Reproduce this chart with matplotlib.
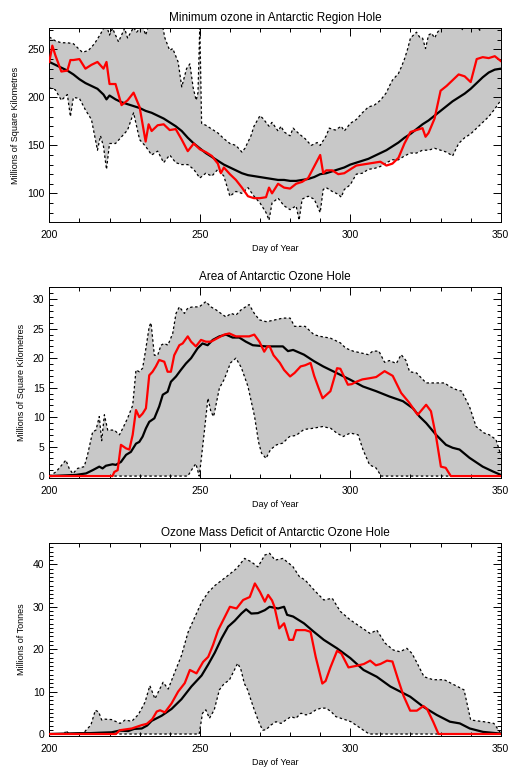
import numpy as np
import matplotlib
matplotlib.use("Agg")
import matplotlib.pyplot as plt
from matplotlib.ticker import MultipleLocator

plt.rcParams['font.family'] = ['Liberation Sans', 'DejaVu Sans']

# ---------------- Panel 1: minimum ozone ----------------
min_oz_max_day = [200, 202, 204, 206, 208, 210, 211, 213, 215, 217, 218, 219, 220, 221, 223, 225, 226, 228,
                  229, 231, 232, 234, 237, 238.4, 240, 241, 242.8, 244, 245.6, 246.7, 247.8, 248.8, 249.4,
                  250, 250.6, 252, 254, 256, 258, 260, 262, 264, 265, 267, 268, 270, 271, 273, 274, 276, 277,
                  278, 280, 281, 283, 285, 287, 289, 290, 292, 293, 295, 297, 298, 300, 302, 304, 306, 308,
                  310, 312, 313, 314, 316, 317, 318, 319, 320, 321, 322, 323, 324, 325, 326, 327, 328, 329,
                  330, 332, 334, 336, 337, 338, 340, 342, 343, 344, 346, 350]
min_oz_max = [263, 259, 257, 257, 256, 250, 247, 249, 256, 266, 272, 275, 265, 272, 258, 272, 262, 273,
              268, 275, 265, 285, 285, 262, 249, 251, 237, 211, 230, 235, 210, 197, 205,
              275, 173, 171, 167, 163, 157, 152, 150, 143, 147, 160, 170, 181, 178, 170, 174, 165, 170,
              164, 160, 168, 162, 157, 150, 153, 150, 160, 168, 166, 170, 165, 173, 177, 184, 190, 192,
              197, 205, 212, 218, 225, 232, 240, 250, 262, 265, 268, 263, 262, 251, 265, 267, 262, 268,
              272, 280, 280, 275, 270, 275, 280, 276, 270, 277, 280, 280]

min_oz_min_day = [200, 202, 204, 206, 207, 208, 210, 212, 214, 216, 217, 218, 219, 220, 222, 224, 226, 228,
                  230, 232, 234, 236, 238, 240, 242, 244, 246, 248, 250, 252, 254, 256, 258, 260, 262, 264,
                  266, 268, 270, 272, 273, 274, 276, 278, 280, 282, 283, 284, 286, 288, 290, 291, 292, 294,
                  296, 297, 298, 300, 302, 304, 306, 308, 310, 312, 314, 316, 318, 320, 322, 324, 326, 328,
                  330, 332, 334, 336, 338, 340, 342, 344, 346, 348, 350]
min_oz_min = [210, 208, 197, 203, 180, 200, 199, 187, 177, 145, 160, 149, 125, 152, 152, 159, 166, 184,
              156, 149, 140, 144, 132, 140, 132, 130, 130, 125, 116, 121, 118, 125, 118, 97, 102, 100,
              106, 97, 90, 80, 72, 90, 95, 87, 83, 87, 72, 94, 97, 94, 80, 104, 106, 102,
              99, 96, 104, 109, 120, 121, 125, 126, 128, 132, 135, 135, 139, 142, 142, 145, 145, 147,
              145, 143, 139, 152, 158, 162, 168, 174, 180, 188, 197]

min_oz_mean_day = [200, 202, 204, 206, 208, 210, 212, 214, 216, 218, 219, 220, 222, 224, 226, 228, 230, 232,
                   234, 236, 238, 240, 242, 244, 246, 248, 250, 252, 254, 256, 258, 260, 262, 264, 266, 268,
                   270, 272, 274, 276, 278, 280, 282, 284, 286, 288, 290, 292, 294, 296, 298, 300, 302, 304,
                   306, 308, 310, 312, 314, 316, 318, 320, 322, 324, 326, 328, 330, 332, 334, 336, 338, 340,
                   342, 344, 346, 348, 350]
min_oz_mean = [237, 234, 231, 228, 224, 219, 215, 212, 209, 203, 198, 202, 198, 195, 193, 191, 189, 186,
               184, 181, 178, 174, 170, 165, 158, 152, 147, 142, 138, 134, 130, 127, 124, 121, 119, 118,
               117, 116, 115, 114, 114, 113, 113, 114, 115, 117, 120, 121, 123, 125, 127, 130, 132, 134,
               136, 139, 142, 145, 149, 153, 158, 162, 167, 172, 176, 181, 186, 191, 196, 200, 204, 209,
               215, 221, 226, 229, 230]

min_oz_now_day = [200, 201, 202, 204, 206, 207, 208, 210, 212, 214, 216, 218, 219, 220, 222, 224, 226, 228,
                  230, 232, 233, 234, 236, 238, 240, 242, 244, 246, 248, 250, 252, 254, 256, 257, 258, 260,
                  262, 264, 266, 268, 270, 272, 273, 274, 276, 278, 280, 282, 284, 286, 288, 290, 291, 292,
                  294, 296, 298, 300, 302, 304, 306, 308, 310, 312, 314, 316, 318, 320, 322, 324, 325, 326,
                  328, 330, 332, 334, 336, 338, 340, 342, 344, 346, 348, 350]
min_oz_now = [237, 254, 244, 227, 228, 239, 239, 240, 230, 234, 237, 230, 237, 214, 214, 192, 197, 205,
              190, 154, 172, 165, 171, 172, 166, 167, 156, 144, 152, 146, 143, 139, 131, 121, 127, 120,
              114, 106, 97, 95, 95, 96, 106, 100, 110, 106, 105, 110, 112, 116, 128, 140, 121, 124,
              124, 120, 121, 125, 129, 130, 131, 132, 133, 129, 131, 137, 152, 164, 166, 168, 159, 163,
              178, 207, 212, 218, 224, 222, 216, 240, 242, 241, 243, 238]

# ---------------- Panel 2: ozone hole area ----------------
area_max_day = [200, 202.2, 205.5, 206.6, 207.8, 209.4, 211.6, 212.7, 214.4, 215.5, 216.6, 217.4, 218.3,
                219.4, 221.6, 223.3, 224.4, 226, 227.7, 228.8, 229.9, 231, 232.1, 233.2, 233.8, 234.9,
                236, 237.1, 238.2, 239.4, 241, 242.1, 243.2, 244.9, 246, 247.6, 249.8, 252, 253.7, 255.4,
                257, 258.7, 260.4, 262, 263.7, 266.4, 268.1, 269.8, 272, 273.2, 275, 277.6, 280, 281.5,
                285, 287.9, 290, 293.4, 296.7, 298.5, 300.9, 303.5, 306, 307.5, 309.5, 311.4, 313, 315.3,
                316.9, 318.5, 319.7, 322, 325.2, 328, 331.3, 333, 335, 337, 339.6, 341.8, 344.5, 346.2,
                348.4, 350]
area_max = [0, 0.7, 2.7, 1.3, 0.4, 1.3, 1.6, 3.6, 7.5, 7.8, 10.1, 6, 10.4,
            7.8, 7.8, 7, 8.1, 9.8, 12, 18, 17.7, 18.3, 21.7, 25.4, 26, 20.5,
            20.5, 22.2, 22.5, 22.2, 24.2, 27.6, 28.7, 27.6, 28.5, 28.7, 28.7, 29.6, 28.7, 28.2,
            27.6, 27, 27.6, 27.3, 28.2, 29.1, 27.6, 26.5, 26.2, 26.3, 26.5, 26.8, 26.8, 25.4,
            25.4, 24.0, 23.7, 23.4, 22.6, 21.7, 21.2, 20.9, 20.6, 21.2, 21.2, 19.3, 19.6, 19.1,
            20.6, 19.6, 17.7, 17.5, 15.8, 15.8, 15.8, 15.2, 14.7, 14.4, 11.8, 8.4, 7.3, 7.0,
            6.2, 3.6]

area_min_day = [200, 246, 247.6, 248.7, 249.8, 250.4, 251.5, 252.7, 253.7, 254.6, 256.5, 258.2, 260.2,
                262, 263.8, 266, 268.2, 269.5, 270.5, 272, 273.5, 275.5, 277.6, 279.8, 282, 284.6,
                287.5, 290.8, 293.5, 295.5, 297.6, 300, 302.6, 304.2, 306.4, 308.5, 310.3, 350]
area_min = [0, 0, 1.3, 2.1, 0, 2.5, 7.5, 13.2, 10.9, 10.1, 14.9, 16.5, 19.2,
            20, 18.4, 15.2, 10.1, 5.8, 3.9, 3.0, 4.5, 5.3, 5.6, 6.7, 6.9, 7.9,
            8.1, 8.4, 8.1, 7.3, 6.7, 7.3, 7.0, 4.5, 1.9, 1.4, 0, 0]

area_mean_day = [200, 208.9, 212.2, 214.4, 216.6, 217.7, 218.8, 221, 222.1, 223.8, 225.5, 227.1, 228.8,
                 229.9, 231, 232.1, 233.2, 234.9, 236.5, 237.7, 239.3, 240.4, 242.1, 243.7, 245.4, 247.1,
                 249.3, 250.9, 252.6, 254.3, 256.5, 258.7, 260.9, 263.1, 265.3, 267.6, 269.8, 272, 273.2,
                 277.6, 279.3, 281, 284.6, 287.9, 291, 295.4, 299.8, 304.2, 308.6, 313, 317.5, 320.8,
                 323, 325.2, 328.5, 331.8, 334, 336.3, 339.6, 344, 347.3, 350]
area_mean = [0, 0.2, 0.45, 1, 1.6, 1.3, 1.75, 2, 1.9, 2.4, 3.6, 4.1, 5.5,
             5.8, 6.7, 8.1, 9.2, 9.8, 11.8, 13.8, 14.3, 16, 16.9, 18, 19.1, 20,
             21.7, 22.5, 22.2, 23.1, 23.7, 24, 23.5, 23.5, 22.8, 22.2, 22.1, 22, 22,
             22, 21.2, 21.4, 20.6, 19.5, 18.6, 17.5, 16.4, 15.2, 14.4, 13.5, 12.7, 11.5,
             10.1, 9.0, 7.0, 5.3, 4.8, 4.5, 3.1, 1.6, 0.8, 0.2]

area_now_day = [200, 221, 221.6, 222.7, 223.8, 225.5, 226.6, 227.7, 228.8, 229.9, 231, 232.1, 233.2,
                234.3, 235.4, 236.5, 238.2, 239.3, 240.4, 241.5, 243.2, 244.3, 246, 247.1, 248.7, 250.4,
                252, 253.7, 255.9, 258.1, 259.8, 262, 264.3, 266.4, 268.1, 269.8, 271.4, 272.5, 273.2,
                274.5, 276.6, 278, 280, 281.5, 283.5, 285, 286.8, 288, 289.5, 290.8, 293.4, 295.6, 296.7,
                299.2, 300.5, 302, 304, 306.4, 308.6, 311.4, 314.1, 316.9, 319.5, 322.4, 325.2, 326.8,
                328.5, 330.1, 331.7, 333.4, 350]
area_now = [0, 0, 0.7, 1, 5.3, 4.7, 4.5, 7, 11.2, 10, 10.6, 11.5, 17.1,
            17.7, 18.6, 19.7, 19.4, 17.7, 17.7, 20.5, 22.2, 22.5, 23.7, 22.8, 22, 23.1,
            22.8, 22.8, 23.4, 24, 24.2, 23.7, 23.7, 23.7, 24, 22.8, 21.1, 22, 22,
            20.5, 19.2, 18, 16.9, 17.5, 18.6, 18.8, 19.2, 17, 14.9, 13.2, 14.4, 18.3, 18.2,
            15.5, 15.6, 16, 16.4, 16.6, 16.8, 17.8, 17.0, 14.1, 12.5, 10.4, 12.1, 11,
            6.7, 1.6, 1.4, 0, 0]

# ---------------- Panel 3: ozone mass deficit ----------------
omd_max_day = [200, 205, 205.5, 206.6, 211.1, 212.2, 213.8, 215.3, 216.4, 217.4, 218.5, 220.7, 223.5,
               225.2, 227.4, 229.6, 231.8, 233.4, 235.1, 237.8, 239.5, 241.7, 243.9, 246.1, 248.3,
               250.6, 252.8, 255, 257.2, 259.4, 262.2, 264.9, 267.1, 269.3, 271.6, 273.2, 275, 277.6,
               280.9, 283.1, 285, 287.9, 291.2, 294, 296.7, 300, 303.3, 306.6, 308.8, 311.6, 314.3,
               316.5, 318.8, 320.5, 322, 324.5, 327.5, 331.2, 335.6, 337.8, 340, 344.4, 347.7, 350]
omd_max = [0, 0, 0.8, 0, 0, 0.9, 2.1, 5.6, 5.2, 3.3, 3.5, 3.4, 2.5,
           3.3, 3.0, 4.6, 7.5, 11.4, 8.3, 12.2, 10.6, 14.6, 18.5, 24.0, 27.5,
           31.1, 33.4, 35.0, 36.2, 37.4, 39.0, 41.4, 40.6, 39.4, 42.2, 42.6, 41.0, 41.4,
           39.5, 37.1, 36.3, 34.0, 31.6, 32.0, 28.9, 26.9, 25.3, 23.7, 24.5, 21.4, 19.8,
           19.4, 20.2, 19.0, 17.0, 13.5, 12.8, 12.8, 11.2, 10.4, 3.3, 2.9, 2.5, 0.2]

omd_min_day = [200, 249.8, 250.9, 252, 253.2, 254.8, 256.5, 258.1, 259.8, 261.5, 262.6, 263.7, 264.8,
               265.9, 267, 268.1, 269.8, 270.9, 272, 273.6, 275.3, 277, 278.6, 280.3, 281.9, 283.6,
               285.3, 286.9, 288.6, 290.3, 291.9, 293.6, 295.2, 296.9, 298.6, 300.2, 301.9, 303.5,
               305.2, 306.3, 350]
omd_min = [0, 0, 4.9, 5.7, 3.7, 5.7, 10.4, 11.9, 12.7, 15.1, 16.7, 15.1, 11.9,
           10.4, 8, 5.7, 2.5, 0.9, 1.0, 2.1, 2.9, 2.5, 3.3, 4.1, 3.7, 4.9,
           4.5, 4.9, 5.7, 6.1, 6.1, 5.3, 4.1, 3.7, 3.3, 2.9, 2.1, 1.3,
           0.5, 0, 0]

omd_mean_day = [200, 209.6, 213.3, 216.6, 220.7, 223.3, 226.2, 228.2, 230.7, 232.5, 234, 237.3, 240.6,
                243.9, 247.2, 250.6, 252.8, 255, 257.2, 259.4, 261.6, 263.8, 265.4, 267.1, 269.3, 271.6,
                273.2, 276, 278, 279, 281, 284.6, 287.9, 291.2, 295.6, 300, 304.4, 308.8, 313.3, 316.6,
                319.9, 324.3, 328.7, 333.1, 336.4, 339.7, 344.1, 350]
omd_mean = [0, 0.2, 0.2, 0.3, 0.4, 0.8, 0.7, 1.2, 1.3, 2.0, 3.1, 4.3, 5.9,
            8.2, 11.2, 13.8, 16.4, 19.2, 22.5, 25.3, 26.7, 28.4, 29.4, 28.4, 28.5, 29.2,
            30.0, 29.6, 30.0, 28.1, 27.7, 26.1, 24.1, 22.2, 20.2, 17.9, 15.1, 13.5, 11.2, 10.0,
            8.8, 6.4, 4.5, 2.9, 2.5, 1.3, 0.5, 0.1]

omd_now_day = [200, 222.1, 223.5, 227.4, 230.7, 232.4, 234.2, 235.7, 236.8, 238.4, 240.6, 242.8, 245,
               246.7, 248.9, 251.1, 252.8, 254.4, 256.1, 258.3, 260, 262.2, 264.4, 266.6, 268.3, 270,
               271.6, 272.7, 274, 274.8, 276.4, 278, 279.7, 281, 282, 285, 286.8, 288.5, 290.7, 291.8,
               293.4, 295.6, 297, 299.4, 302.2, 304.5, 306.6, 308.5, 310, 312.2, 314, 316, 317.7,
               319.9, 322.1, 324.3, 325.5, 327.6, 329.3, 350]
omd_now = [0, 0, 0.9, 1.3, 2.1, 2.4, 3.5, 5.3, 5.6, 5.1, 7.2, 10.0, 12.0,
           15.1, 14.3, 17.0, 18.2, 21.0, 24.5, 27.6, 30.0, 29.6, 31.6, 32.3, 35.5, 33.5,
           31.2, 32.8, 31.5, 30, 24.9, 26.1, 22.2, 22.2, 24.5, 24.5, 24.1, 18.2, 11.9, 12.5,
           15.7, 19.6, 19, 15.7, 16.1, 16.5, 17.3, 16.2, 16.5, 17.3, 17.1, 12.6, 9.0,
           5.5, 5.5, 6.6, 5.9, 2.8, 0, 0]

panels = [
    dict(title="Minimum ozone in Antarctic Region Hole", ylabel="Millions of Square Kilometres",
         mx=(min_oz_max_day, min_oz_max), mn=(min_oz_min_day, min_oz_min),
         mean=(min_oz_mean_day, min_oz_mean), now=(min_oz_now_day, min_oz_now),
         ylim=(70.5, 272), major=50, minor=10, pos=[0.0965, 0.711, 0.8835, 0.252]),
    dict(title="Area of Antarctic Ozone Hole", ylabel="Millions of Square Kilometres",
         mx=(area_max_day, area_max), mn=(area_min_day, area_min),
         mean=(area_mean_day, area_mean), now=(area_now_day, area_now),
         ylim=(-0.3, 32.1), major=5, minor=1, pos=[0.0965, 0.377, 0.8835, 0.249]),
    dict(title="Ozone Mass Deficit of Antarctic Ozone Hole", ylabel="Millions of Tonnes",
         mx=(omd_max_day, omd_max), mn=(omd_min_day, omd_min),
         mean=(omd_mean_day, omd_mean), now=(omd_now_day, omd_now),
         ylim=(-0.4, 45.1), major=10, minor=1, pos=[0.0965, 0.0408, 0.8835, 0.2516]),
]

fig = plt.figure(figsize=(5.11, 7.67), dpi=100)

for p in panels:
    ax = fig.add_axes(p['pos'])
    xd, yd = np.array(p['mx'][0]), np.array(p['mx'][1])
    xn, yn = np.array(p['mn'][0]), np.array(p['mn'][1])
    # grey envelope between the min and max of all years
    ax.fill(np.r_[xd, xn[::-1]], np.r_[yd, yn[::-1]], color='#c8c8c8', lw=0, zorder=1)
    ax.plot(xd, yd, color='black', lw=0.9, ls=(0, (2, 2)), zorder=2)
    ax.plot(xn, yn, color='black', lw=0.9, ls=(0, (2, 2)), zorder=2)
    ax.plot(p['mean'][0], p['mean'][1], color='black', lw=1.6, zorder=3)
    ax.plot(p['now'][0], p['now'][1], color='#ff0000', lw=1.6, zorder=4)

    ax.set_xlim(200, 350)
    ax.set_ylim(*p['ylim'])
    ax.xaxis.set_major_locator(MultipleLocator(50))
    ax.xaxis.set_minor_locator(MultipleLocator(10))
    ax.yaxis.set_major_locator(MultipleLocator(p['major']))
    ax.yaxis.set_minor_locator(MultipleLocator(p['minor']))
    ax.tick_params(which='both', direction='in', top=True, right=True, labelsize=7.5, width=0.7)
    ax.tick_params(which='major', length=5.5)
    ax.tick_params(which='minor', length=3)
    ax.tick_params(axis='x', pad=6)
    for s in ax.spines.values():
        s.set_linewidth(0.7)
    ax.set_title(p['title'], fontsize=8.5, pad=5)
    ax.set_xlabel("Day of Year", fontsize=6.5, labelpad=3)
    ax.set_ylabel(p['ylabel'], fontsize=6.5, labelpad=5)

fig.savefig("out.png", dpi=100)
